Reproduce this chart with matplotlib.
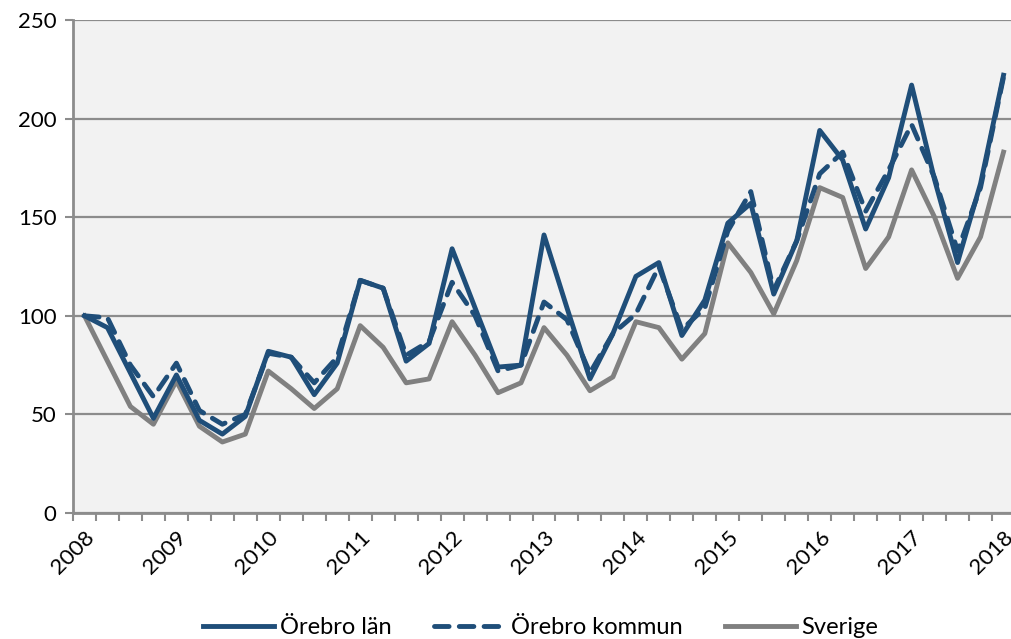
import matplotlib.pyplot as plt
import numpy as np

# quarterly index, 2008 Q1 = 100
years = list(range(2008, 2019))
orebro_lan = [100, 94, 71, 48, 70, 47, 40, 49, 82, 79, 60, 76,
              118, 114, 77, 86, 134, 104, 74, 75, 141, 104, 68, 91,
              120, 127, 90, 108, 147, 157, 111, 138, 194, 179, 144, 170,
              217, 169, 127, 167, 222]
orebro_kommun = [100, 99, 75, 59, 76, 52, 45, 50, 81, 79, 66, 79,
                 118, 114, 80, 87, 117, 100, 72, 75, 107, 98, 71, 91,
                 101, 125, 93, 104, 143, 163, 113, 138, 172, 183, 153, 174,
                 197, 170, 133, 165, 221]
sverige = [100, 77, 54, 45, 67, 44, 36, 40, 72, 63, 53, 63,
           95, 84, 66, 68, 97, 80, 61, 66, 94, 80, 62, 69,
           97, 94, 78, 91, 137, 122, 101, 128, 165, 160, 124, 140,
           174, 150, 119, 140, 183]

plt.rcParams['font.family'] = ['Lato', 'DejaVu Sans']

blue = "#1F4E79"
grey = "#808080"
gridc = "#8C8C8C"

fig = plt.figure(figsize=(10.11, 6.39), dpi=100)
ax = fig.add_axes([73/1011, 1-513/639, (1015-73)/1011, (513-20)/639])
ax.set_facecolor("#F2F2F2")

x = np.arange(len(sverige))
lw = 3.5
ax.plot(x, sverige, color=grey, linewidth=lw, label="Sverige",
        solid_joinstyle="round", zorder=3)
ax.plot(x, orebro_kommun, color=blue, linewidth=lw, linestyle=(0, (3.0, 2.1)),
        dash_capstyle="round", label="Örebro kommun", zorder=4)
ax.plot(x, orebro_lan, color=blue, linewidth=lw, label="Örebro län",
        solid_joinstyle="round", zorder=5)

ax.set_xlim(-0.5, len(x) - 0.5)
ax.set_ylim(0, 250)
ax.set_yticks(range(0, 251, 50))
ax.yaxis.grid(True, color=gridc, linewidth=1.6)
ax.set_axisbelow(True)

# category boundaries as tick marks, year labels centred on Q1
ax.set_xticks(np.arange(-0.5, len(x), 1.0))
ax.set_xticklabels([])
ax.set_xticks(np.arange(0, len(x), 4), minor=True)
ax.set_xticklabels([str(y) for y in years], minor=True, rotation=45,
                   ha="right", rotation_mode="anchor", fontsize=16)
ax.tick_params(axis="x", which="major", length=6, width=1.5, color=gridc)
ax.tick_params(axis="x", which="minor", length=0, pad=10)
ax.tick_params(axis="y", length=6, width=1.5, color=gridc, labelsize=16, pad=6)

for s in ["top", "right"]:
    ax.spines[s].set_visible(False)
for s in ["left", "bottom"]:
    ax.spines[s].set_color(gridc)
    ax.spines[s].set_linewidth(2)

handles, labels = ax.get_legend_handles_labels()
order = [2, 1, 0]
fig.legend([handles[i] for i in order], [labels[i] for i in order],
           loc="center", bbox_to_anchor=(0.535, 0.018), ncol=3, frameon=False,
           fontsize=17, handlelength=3.0, columnspacing=1.8, handletextpad=0.25)

fig.savefig("out.png", dpi=100)
